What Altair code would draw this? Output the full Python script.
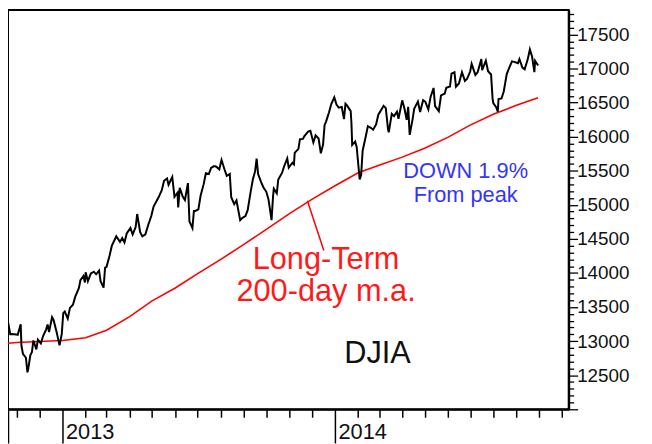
import altair as alt
import pandas as pd

# ---- DJIA daily closes ----
djia_dates = [
    "2012-10-19", "2012-10-23", "2012-10-25", "2012-10-31", "2012-11-02", "2012-11-06", "2012-11-07",
    "2012-11-09", "2012-11-13", "2012-11-15", "2012-11-16", "2012-11-19", "2012-11-21", "2012-11-23",
    "2012-11-27", "2012-11-29", "2012-12-03", "2012-12-06", "2012-12-10", "2012-12-12", "2012-12-14",
    "2012-12-18", "2012-12-20", "2012-12-24", "2012-12-28", "2012-12-31",
    "2013-01-02", "2013-01-04", "2013-01-08", "2013-01-11", "2013-01-15", "2013-01-18", "2013-01-23",
    "2013-01-25", "2013-01-29", "2013-01-31", "2013-02-01", "2013-02-04", "2013-02-08", "2013-02-12",
    "2013-02-15", "2013-02-19", "2013-02-21", "2013-02-25", "2013-02-27", "2013-03-01", "2013-03-05",
    "2013-03-08", "2013-03-14", "2013-03-19", "2013-03-22", "2013-03-25", "2013-03-28", "2013-04-02",
    "2013-04-05", "2013-04-09", "2013-04-11", "2013-04-15", "2013-04-18", "2013-04-22", "2013-04-26",
    "2013-04-30", "2013-05-03", "2013-05-07", "2013-05-10", "2013-05-14", "2013-05-17", "2013-05-21",
    "2013-05-23", "2013-05-28", "2013-05-31", "2013-06-04", "2013-06-05", "2013-06-07", "2013-06-11",
    "2013-06-14", "2013-06-18", "2013-06-20", "2013-06-24", "2013-06-26", "2013-06-28", "2013-07-02",
    "2013-07-05", "2013-07-09", "2013-07-12", "2013-07-16", "2013-07-19", "2013-07-23", "2013-07-26",
    "2013-07-30", "2013-08-02", "2013-08-06", "2013-08-09", "2013-08-13", "2013-08-15", "2013-08-19",
    "2013-08-22", "2013-08-27", "2013-08-30", "2013-09-03", "2013-09-06", "2013-09-10", "2013-09-13",
    "2013-09-16", "2013-09-18", "2013-09-20", "2013-09-24", "2013-09-27", "2013-10-01", "2013-10-04",
    "2013-10-08", "2013-10-10", "2013-10-11", "2013-10-15", "2013-10-17", "2013-10-22", "2013-10-25",
    "2013-10-29", "2013-10-31", "2013-11-05", "2013-11-07", "2013-11-08", "2013-11-13", "2013-11-15",
    "2013-11-19", "2013-11-21", "2013-11-26", "2013-11-29", "2013-12-03", "2013-12-06", "2013-12-10",
    "2013-12-13", "2013-12-16", "2013-12-18", "2013-12-20", "2013-12-24", "2013-12-27", "2013-12-31",
    "2014-01-03", "2014-01-06", "2014-01-10", "2014-01-13", "2014-01-15", "2014-01-17", "2014-01-22",
    "2014-01-23", "2014-01-24", "2014-01-28", "2014-01-30", "2014-02-03", "2014-02-05", "2014-02-07",
    "2014-02-11", "2014-02-14", "2014-02-18", "2014-02-21", "2014-02-25", "2014-02-28", "2014-03-04",
    "2014-03-07", "2014-03-10", "2014-03-13", "2014-03-14", "2014-03-18", "2014-03-21", "2014-03-25",
    "2014-03-27", "2014-04-01", "2014-04-04", "2014-04-07", "2014-04-09", "2014-04-11", "2014-04-15",
    "2014-04-17", "2014-04-22", "2014-04-25", "2014-04-29", "2014-05-02", "2014-05-06", "2014-05-09",
    "2014-05-13", "2014-05-15", "2014-05-20", "2014-05-23", "2014-05-28", "2014-05-30", "2014-06-04",
    "2014-06-06", "2014-06-10", "2014-06-12", "2014-06-16", "2014-06-20", "2014-06-24", "2014-06-27",
    "2014-07-01", "2014-07-03", "2014-07-08", "2014-07-11", "2014-07-16", "2014-07-17", "2014-07-22",
    "2014-07-25", "2014-07-29", "2014-07-31", "2014-08-01", "2014-08-05", "2014-08-07", "2014-08-08",
    "2014-08-12", "2014-08-15", "2014-08-19", "2014-08-22", "2014-08-26", "2014-08-29", "2014-09-03",
    "2014-09-05", "2014-09-09", "2014-09-12", "2014-09-16", "2014-09-19", "2014-09-22", "2014-09-25",
    "2014-09-26", "2014-09-30",
]
djia_values = [
    13343, 13102, 13104, 13096, 13093, 13246, 12932,
    12815, 12756, 12542, 12588, 12796, 12836, 13010,
    12878, 13022, 12966, 13075, 13170, 13245, 13135,
    13351, 13311, 13139, 12938, 13104,
    13412, 13435, 13329, 13488, 13535, 13649, 13780,
    13895, 13954, 13861, 14009, 13880, 13993, 14019,
    13981, 14035, 13880, 13784, 14076, 14090, 14254,
    14397, 14539, 14456, 14512, 14448, 14579, 14662,
    14565, 14673, 14865, 14599, 14537, 14567, 14712,
    14840, 14974, 15056, 15118, 15215, 15354, 15388,
    15295, 15409, 15116, 15177, 14961, 15248, 15122,
    15071, 15318, 14758, 14660, 14910, 14910, 14932,
    15136, 15300, 15464, 15452, 15543, 15568, 15559,
    15521, 15658, 15519, 15426, 15452, 15112, 15010,
    15063, 14776, 14810, 14834, 14922, 15191, 15376,
    15494, 15677, 15452, 15334, 15258, 15191, 15073,
    14776, 15126, 15237, 15168, 15372, 15468, 15570,
    15680, 15546, 15618, 15594, 15762, 15821, 15962,
    15967, 16009, 16073, 16086, 15915, 16020, 15973,
    15755, 15885, 16168, 16221, 16358, 16479, 16577,
    16470, 16425, 16437, 16257, 16482, 16459, 16374,
    16198, 15879, 15929, 15849, 15373, 15441, 15794,
    15994, 16154, 16130, 16103, 16179, 16322, 16396,
    16453, 16418, 16109, 16065, 16336, 16302, 16367,
    16264, 16533, 16412, 16246, 16437, 16027, 16262,
    16409, 16514, 16361, 16535, 16512, 16401, 16583,
    16715, 16447, 16374, 16606, 16633, 16717, 16737,
    16924, 16945, 16734, 16781, 16947, 16818, 16851,
    16956, 17068, 16906, 16944, 17138, 16977, 17114,
    16961, 16912, 16563, 16493, 16430, 16368, 16553,
    16561, 16663, 16919, 17001, 17106, 17098, 17079,
    17138, 17014, 16988, 17131, 17280, 17173, 16946,
    17113, 17043,
]

# ---- 200-day moving average ----
ma_dates = [
    "2012-10-20", "2012-11-01", "2012-12-01", "2013-01-01", "2013-02-01", "2013-03-01", "2013-04-01",
    "2013-05-01", "2013-06-01", "2013-07-01", "2013-08-01", "2013-09-01", "2013-10-01", "2013-11-01",
    "2013-12-01", "2014-01-01", "2014-02-01", "2014-03-01", "2014-04-01", "2014-05-01", "2014-06-01",
    "2014-07-01", "2014-08-01", "2014-09-01", "2014-09-30",
]
ma_values = [
    12970, 12980, 12995, 13010, 13050, 13160, 13360,
    13590, 13780, 13990, 14200, 14420, 14640, 14870,
    15080, 15280, 15470, 15580, 15700, 15830, 15990,
    16170, 16330, 16460, 16570,
]

# ---- annotations ----
red_texts = ["Long-Term", "200-day m.a."]
red_dates = ["2013-12-20", "2013-12-20"]
red_values = [14186, 13721]
blue_texts = ["DOWN 1.9%", "From peak"]
blue_dates = ["2014-06-25", "2014-06-25"]
blue_values = [15494, 15145]
name_text = ["DJIA"]
name_date = ["2014-02-27"]
name_value = [12805]
leader_dates = ["2013-11-25", "2013-12-17"]
leader_values = [15060, 14331]

y_tick_values = list(range(12000, 17900, 100))

FONT = "Liberation Sans"

djia = pd.DataFrame({"date": pd.to_datetime(djia_dates), "value": djia_values})
ma = pd.DataFrame({"date": pd.to_datetime(ma_dates), "value": ma_values})
red_df = pd.DataFrame({"date": pd.to_datetime(red_dates), "value": red_values, "text": red_texts})
blue_df = pd.DataFrame({"date": pd.to_datetime(blue_dates), "value": blue_values, "text": blue_texts})
name_df = pd.DataFrame({"date": pd.to_datetime(name_date), "value": name_value, "text": name_text})
leader_df = pd.DataFrame({
    "date": [pd.Timestamp(leader_dates[0])], "date2": [pd.Timestamp(leader_dates[1])],
    "value": [leader_values[0]], "value2": [leader_values[1]],
})

month_ticks = [alt.DateTime(year=2012, month=10, date=20)]
for yy in (2012, 2013, 2014):
    for mm in range(1, 13):
        if (yy == 2012 and mm < 11) or (yy == 2014 and mm > 11):
            continue
        month_ticks.append(alt.DateTime(year=yy, month=mm, date=1))

x_scale = alt.Scale(domain=[alt.DateTime(year=2012, month=10, date=20),
                            alt.DateTime(year=2014, month=11, date=10)], nice=False)
y_scale = alt.Scale(domain=[12000, 17858], nice=False, zero=False)

x_axis = alt.Axis(
    values=month_ticks,
    labelExpr="month(datum.value) === 0 ? timeFormat(datum.value, '%Y') : ''",
    tickSize={"condition": {"test": "month(datum.value) === 0 || datum.value < datetime(2012, 9, 25)",
                            "value": 34}, "value": 8},
    labelAlign="left", labelBaseline="middle", labelOffset=3, labelPadding=-12,
    labelFont=FONT, labelFontSize=22, labelColor="#111111",
    labelFlush=False, labelOverlap=False,
    grid=False, domainColor="black", domainWidth=2, tickColor="black", tickWidth=1.5,
    title=None,
)
y_axis = alt.Axis(
    orient="right", values=y_tick_values,
    labelExpr="(datum.value % 500 === 0 && datum.value >= 12500) ? format(datum.value, 'd') : ''",
    tickSize={"condition": {"test": "datum.value % 500 === 0", "value": 9}, "value": 5},
    labelPadding=-1, labelFont=FONT, labelFontSize=19, labelColor="#111111",
    labelOverlap=False, labelFlush=False,
    grid=False, domainColor="black", domainWidth=2, tickColor="black", tickWidth=1.3,
    title=None,
)

X = alt.X("date:T", scale=x_scale, axis=x_axis)
Y = alt.Y("value:Q", scale=y_scale, axis=y_axis)

ma_line = alt.Chart(ma).mark_line(color="#ff0000", strokeWidth=1.6).encode(x=X, y=Y)
djia_line = alt.Chart(djia).mark_line(color="black", strokeWidth=2).encode(x=X, y=Y)
leader = alt.Chart(leader_df).mark_rule(color="#ff0000", strokeWidth=1.5).encode(
    x=X, x2="date2:T", y=Y, y2="value2:Q")
red_txt = alt.Chart(red_df).mark_text(
    font=FONT, fontSize=31, color="#ff1a1a", align="center", baseline="middle"
).encode(x=X, y=Y, text="text:N")
blue_txt = alt.Chart(blue_df).mark_text(
    font=FONT, fontSize=22, color="#3535f5", align="center", baseline="middle"
).encode(x=X, y=Y, text="text:N")
name_txt = alt.Chart(name_df).mark_text(
    font=FONT, fontSize=31, color="#111111", align="center", baseline="middle"
).encode(x=X, y=Y, text="text:N")

chart = alt.layer(ma_line, djia_line, leader, red_txt, blue_txt, name_txt).properties(
    width=566, height=403,
    autosize=alt.AutoSizeParams(type="none"),
    padding={"left": 0, "top": 0, "right": 76, "bottom": 36},
    background="white",
).configure_view(stroke="black", strokeWidth=2)

chart.save("out.html", embed_options={"renderer": "svg", "actions": False})
